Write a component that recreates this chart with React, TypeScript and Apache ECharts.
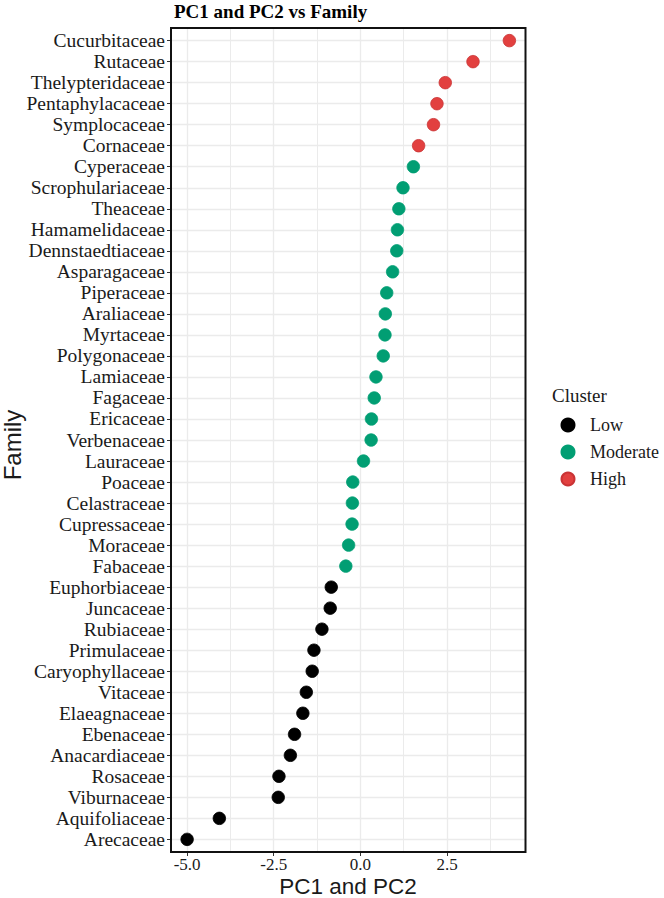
import React, { useEffect, useRef } from "react";
import * as echarts from "echarts";

// Families listed from top to bottom of the dot plot
const families = [
  "Cucurbitaceae", "Rutaceae", "Thelypteridaceae", "Pentaphylacaceae", "Symplocaceae",
  "Cornaceae", "Cyperaceae", "Scrophulariaceae", "Theaceae", "Hamamelidaceae",
  "Dennstaedtiaceae", "Asparagaceae", "Piperaceae", "Araliaceae", "Myrtaceae",
  "Polygonaceae", "Lamiaceae", "Fagaceae", "Ericaceae", "Verbenaceae",
  "Lauraceae", "Poaceae", "Celastraceae", "Cupressaceae", "Moraceae",
  "Fabaceae", "Euphorbiaceae", "Juncaceae", "Rubiaceae", "Primulaceae",
  "Caryophyllaceae", "Vitaceae", "Elaeagnaceae", "Ebenaceae", "Anacardiaceae",
  "Rosaceae", "Viburnaceae", "Aquifoliaceae", "Arecaceae",
];

// Combined PC1 + PC2 score per family
const scores = [
  4.3, 3.25, 2.45, 2.21, 2.11,
  1.68, 1.53, 1.23, 1.11, 1.07,
  1.05, 0.93, 0.76, 0.72, 0.71,
  0.66, 0.45, 0.4, 0.32, 0.31,
  0.09, -0.22, -0.23, -0.24, -0.34,
  -0.42, -0.84, -0.87, -1.11, -1.34,
  -1.39, -1.56, -1.66, -1.9, -2.02,
  -2.35, -2.37, -4.07, -5.0,
];

// Cluster membership per family
const clusters = [
  "High", "High", "High", "High", "High",
  "High", "Moderate", "Moderate", "Moderate", "Moderate",
  "Moderate", "Moderate", "Moderate", "Moderate", "Moderate",
  "Moderate", "Moderate", "Moderate", "Moderate", "Moderate",
  "Moderate", "Moderate", "Moderate", "Moderate", "Moderate",
  "Moderate", "Low", "Low", "Low", "Low",
  "Low", "Low", "Low", "Low", "Low",
  "Low", "Low", "Low", "Low",
];

const clusterNames = ["Low", "Moderate", "High"];
const clusterColors = ["#000000", "#019E73", "#E2403F"];
const clusterBorders = ["#000000", "#019E73", "#C93335"];

const xMajorTicks = [-5, -2.5, 0, 2.5];
const xMinorGrid = [-3.75, -1.25, 1.25, 3.75];

const SERIF = "'Liberation Serif', 'Times New Roman', serif";
const SANS = "'Liberation Sans', Arial, sans-serif";

export default function App() {
  const ref = useRef<HTMLDivElement>(null);

  useEffect(() => {
    document.body.style.margin = "0";
    if (!ref.current) return;
    const chart = echarts.init(ref.current, undefined, { renderer: "svg" });

    const lo = Math.min(...scores);
    const hi = Math.max(...scores);
    const pad = (hi - lo) * 0.05;
    const rowIdx = families.map((_, i) => i);

    const series: any[] = clusterNames.map((name, k) => ({
      name,
      type: "scatter",
      symbol: "circle",
      symbolSize: 12.5,
      z: 4,
      itemStyle: {
        color: clusterColors[k],
        borderColor: clusterBorders[k],
        borderWidth: 0.8,
        opacity: 1,
      },
      data: families
        .map((f, i) => [scores[i], i, f, clusters[i]])
        .filter((d) => d[3] === name),
    }));

    // minor vertical grid lines, kept beneath the points
    series.push({
      name: "grid",
      type: "line",
      data: [],
      z: 1,
      silent: true,
      markLine: {
        z: 1,
        silent: true,
        symbol: "none",
        label: { show: false },
        lineStyle: { color: "#ebebeb", width: 1, type: "solid" },
        data: xMinorGrid.map((v) => ({ xAxis: v })),
      },
    });

    chart.setOption({
      animation: false,
      backgroundColor: "#ffffff",
      title: [
        {
          text: "PC1 and PC2 vs Family",
          left: 169,
          top: -3,
          textStyle: { fontFamily: SERIF, fontWeight: "bold", fontSize: 19, color: "#000" },
        },
        {
          text: "Cluster",
          left: 547,
          top: 381,
          textStyle: { fontFamily: SERIF, fontWeight: "normal", fontSize: 19, color: "#1a1a1a" },
        },
      ],
      graphic: [
        {
          type: "text",
          x: 12.5,
          y: 445,
          rotation: Math.PI / 2,
          style: {
            text: "Family",
            fontFamily: SANS,
            fontSize: 24,
            fill: "#1a1a1a",
            align: "center",
            verticalAlign: "middle",
          },
        },
        {
          type: "text",
          x: 348,
          y: 886.5,
          style: {
            text: "PC1 and PC2",
            fontFamily: SANS,
            fontSize: 22.5,
            fill: "#1a1a1a",
            align: "center",
            verticalAlign: "middle",
          },
        },
      ],
      legend: {
        data: clusterNames,
        orient: "vertical",
        left: 555.5,
        top: 411,
        itemWidth: 34,
        itemHeight: 13,
        itemGap: 9,
        icon: "circle",
        textStyle: { fontFamily: SERIF, fontSize: 18, color: "#1a1a1a" },
      },
      grid: {
        left: 171,
        right: 138.5,
        top: 28,
        bottom: 46,
        outerBoundsMode: "none",
        containLabel: false,
        show: true,
        borderColor: "#111",
        borderWidth: 2,
        backgroundColor: "transparent",
        z: 2,
      },
      xAxis: {
        type: "value",
        min: lo - pad,
        max: hi + pad,
        axisLine: { show: false, onZero: false },
        axisTick: {
          show: true,
          length: 4,
          customValues: xMajorTicks,
          lineStyle: { color: "#333", width: 1 },
        },
        axisLabel: {
          customValues: xMajorTicks,
          margin: 4,
          fontFamily: SERIF,
          fontSize: 17,
          color: "#1a1a1a",
          formatter: (v: number) => v.toFixed(1),
        },
        splitLine: { show: true, lineStyle: { color: "#ebebeb", width: 1.3 } },
      },
      yAxis: {
        type: "value",
        inverse: true,
        min: -0.6,
        max: families.length - 1 + 0.6,
        axisLine: { show: false, onZero: false },
        axisTick: {
          show: true,
          length: 4,
          customValues: rowIdx,
          lineStyle: { color: "#333", width: 1 },
        },
        axisLabel: {
          customValues: rowIdx,
          margin: 6,
          fontFamily: SERIF,
          fontSize: 19.5,
          color: "#1a1a1a",
          formatter: (v: number) => families[Math.round(v)] ?? "",
        },
        splitLine: { show: true, lineStyle: { color: "#ebebeb", width: 1.3 } },
      },
      series,
    });

    return () => chart.dispose();
  }, []);

  return <div ref={ref} style={{ width: 664, height: 898 }} />;
}
